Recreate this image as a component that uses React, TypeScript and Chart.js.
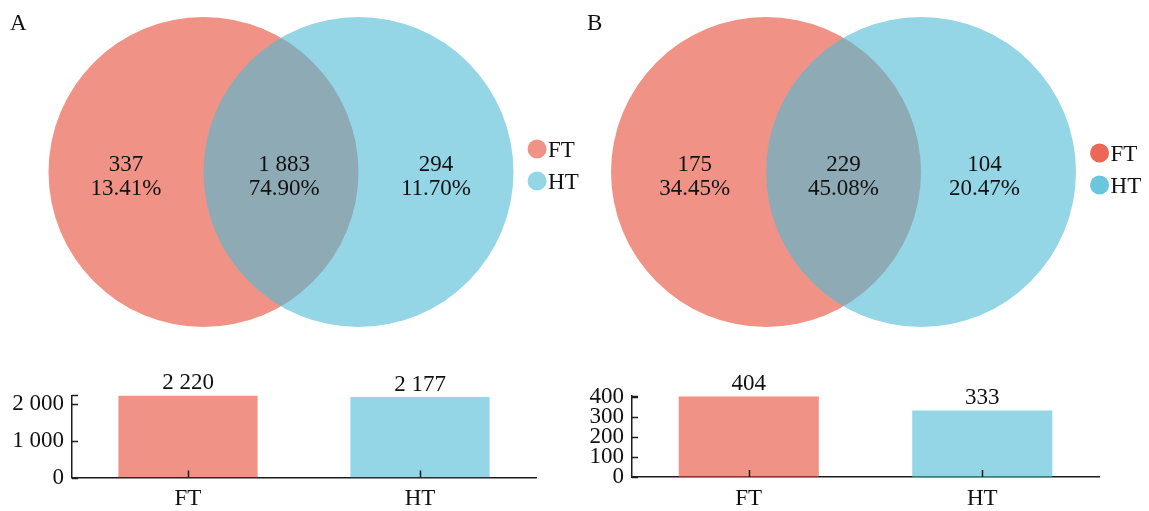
import React, { useEffect, useRef } from 'react';
import { Chart, registerables } from 'chart.js';

Chart.register(...registerables);

// ---------------- data ----------------
const SETS = ['FT', 'HT'];
const VENN_A_COUNTS = [337, 1883, 294];
const VENN_A_PCTS = ['13.41%', '74.90%', '11.70%'];
const VENN_B_COUNTS = [175, 229, 104];
const VENN_B_PCTS = ['34.45%', '45.08%', '20.47%'];
const BAR_A_VALUES = [2220, 2177];
const BAR_B_VALUES = [404, 333];
const BAR_A_TICKS = [0, 1000, 2000];
const BAR_B_TICKS = [0, 100, 200, 300, 400];

// ---------------- styles / layout ----------------
const FONT = "'Liberation Serif', 'Times New Roman', serif";
const FS = 23;
const TEXT = '#111';
const AXIS = '#1c1c1c';
const RED = 'rgba(230,75,53,0.6)';
const BLUE = 'rgba(77,187,213,0.6)';
const RED_STRONG = 'rgba(230,75,53,0.84)';
const BLUE_STRONG = 'rgba(77,187,213,0.84)';
const VENN_UNIT = 155; // px per unit
const VENN_R = 1;
const VENN_CX = [-0.5, 0.5];
const LEGEND_X = 1.652;

const fmt = (v: number) => String(v).replace(/\B(?=(\d{3})+(?!\d))/g, ' ');

type VennOpts = {
  letter: string;
  letterX: number;
  midX: number;
  midY: number;
  width: number;
  height: number;
  labelX: number[];
  legendDy: number[];
  legendColors: string[];
  counts: number[];
  pcts: string[];
};

function makeVenn(canvas: HTMLCanvasElement, o: VennOpts) {
  const radiusFn = (c: any) => {
    const s = c.chart.scales.x;
    if (!s) return 0;
    return Math.abs(s.getPixelForValue(VENN_R) - s.getPixelForValue(0));
  };
  const labels = {
    id: 'vennLabels',
    afterDatasetsDraw(chart: any) {
      const { ctx } = chart;
      const x = chart.scales.x;
      const y = chart.scales.y;
      const py = y.getPixelForValue(0);
      ctx.save();
      ctx.fillStyle = TEXT;
      ctx.font = `${FS}px ${FONT}`;
      ctx.textAlign = 'center';
      ctx.textBaseline = 'alphabetic';
      o.counts.forEach((c, i) => {
        const px = x.getPixelForValue(o.labelX[i]);
        ctx.fillText(fmt(c), px, py - 1.5);
        ctx.fillText(o.pcts[i], px, py + 22.5);
      });
      const lx = x.getPixelForValue(LEGEND_X);
      SETS.forEach((s, i) => {
        const ly = py + o.legendDy[i];
        ctx.beginPath();
        ctx.fillStyle = o.legendColors[i];
        ctx.arc(lx, ly, 9.5, 0, Math.PI * 2);
        ctx.fill();
        ctx.fillStyle = TEXT;
        ctx.textAlign = 'left';
        ctx.fillText(s, lx + 11, ly + 8);
      });
      ctx.textAlign = 'left';
      ctx.fillText(o.letter, o.letterX, 30);
      ctx.restore();
    },
  };
  return new Chart(canvas, {
    type: 'scatter',
    data: {
      datasets: SETS.map((s, i) => ({
        label: s,
        data: [{ x: VENN_CX[i], y: 0 }],
        backgroundColor: i === 0 ? RED : BLUE,
        borderWidth: 0,
        pointRadius: radiusFn,
        pointHoverRadius: radiusFn,
        clip: false,
        order: SETS.length - i, // HT drawn on top of FT
      })),
    },
    options: {
      animation: false,
      responsive: false,
      maintainAspectRatio: false,
      events: [],
      layout: { padding: 0 },
      plugins: { legend: { display: false }, tooltip: { enabled: false } },
      scales: {
        x: {
          type: 'linear',
          display: false,
          min: -o.midX / VENN_UNIT,
          max: (o.width - o.midX) / VENN_UNIT,
        },
        y: {
          type: 'linear',
          display: false,
          min: -(o.height - o.midY) / VENN_UNIT,
          max: o.midY / VENN_UNIT,
        },
      },
    } as any,
    plugins: [labels],
  });
}

type BarOpts = {
  values: number[];
  ticks: number[];
  max: number;
  yWidth: number;
  xHeight: number;
  padTop: number;
  padRight: number;
};

function makeBar(canvas: HTMLCanvasElement, o: BarOpts) {
  const deco = {
    id: 'barDeco',
    afterDatasetsDraw(chart: any) {
      const { ctx } = chart;
      const meta = chart.getDatasetMeta(0);
      ctx.save();
      ctx.fillStyle = TEXT;
      ctx.font = `${FS}px ${FONT}`;
      ctx.textAlign = 'center';
      ctx.textBaseline = 'alphabetic';
      meta.data.forEach((bar: any, i: number) => {
        ctx.fillText(fmt(o.values[i]), bar.x, bar.y - 6);
      });
      ctx.restore();
    },
    afterDraw(chart: any) {
      const { ctx, chartArea } = chart;
      const x = chart.scales.x;
      const y = chart.scales.y;
      ctx.save();
      ctx.strokeStyle = AXIS;
      ctx.lineWidth = 1.5;
      const vals = [...o.ticks, o.max];
      vals.forEach((v) => {
        const p = Math.round(y.getPixelForValue(v)) + 0.5;
        ctx.beginPath();
        ctx.moveTo(chartArea.left, p);
        ctx.lineTo(chartArea.left + 6, p);
        ctx.stroke();
      });
      x.ticks.forEach((_t: any, i: number) => {
        const p = Math.round(x.getPixelForTick(i)) + 0.5;
        ctx.beginPath();
        ctx.moveTo(p, chartArea.bottom);
        ctx.lineTo(p, chartArea.bottom - 7);
        ctx.stroke();
      });
      ctx.restore();
    },
  };
  return new Chart(canvas, {
    type: 'bar',
    data: {
      labels: SETS,
      datasets: [
        {
          data: o.values,
          backgroundColor: [RED, BLUE],
          borderWidth: 0,
          barPercentage: 0.6,
          categoryPercentage: 1,
        },
      ],
    },
    options: {
      animation: false,
      responsive: false,
      maintainAspectRatio: false,
      events: [],
      layout: { padding: { top: o.padTop, right: o.padRight, left: 0, bottom: 0 } },
      plugins: { legend: { display: false }, tooltip: { enabled: false } },
      scales: {
        x: {
          type: 'category',
          grid: { display: false, drawTicks: false },
          border: { display: true, color: AXIS, width: 1.5 },
          ticks: { color: TEXT, font: { family: FONT, size: FS }, padding: 8 },
          afterFit: (s: any) => {
            s.height = o.xHeight;
          },
        },
        y: {
          type: 'linear',
          min: 0,
          max: o.max,
          grid: { display: false, drawTicks: false },
          border: { display: true, color: AXIS, width: 1.5 },
          afterBuildTicks: (s: any) => {
            s.ticks = o.ticks.map((v) => ({ value: v }));
          },
          ticks: {
            color: TEXT,
            font: { family: FONT, size: FS },
            padding: 8,
            autoSkip: false,
            callback: (v: any) => fmt(Number(v)),
          },
          afterFit: (s: any) => {
            s.width = o.yWidth;
          },
        },
      },
    } as any,
    plugins: [deco],
  });
}

export default function App() {
  const vA = useRef<HTMLCanvasElement>(null);
  const vB = useRef<HTMLCanvasElement>(null);
  const bA = useRef<HTMLCanvasElement>(null);
  const bB = useRef<HTMLCanvasElement>(null);

  useEffect(() => {
    const charts: Chart[] = [];
    charts.push(
      makeVenn(vA.current!, {
        letter: 'A',
        letterX: 10,
        midX: 281,
        midY: 172,
        width: 590,
        height: 345,
        labelX: [-1.0, 0.02, 1.0],
        legendDy: [-23, 9],
        legendColors: [RED, BLUE],
        counts: VENN_A_COUNTS,
        pcts: VENN_A_PCTS,
      })
    );
    charts.push(
      makeVenn(vB.current!, {
        letter: 'B',
        letterX: 7,
        midX: 263.5,
        midY: 172,
        width: 569,
        height: 345,
        labelX: [-0.96, 0, 0.91],
        legendDy: [-19, 13],
        legendColors: [RED_STRONG, BLUE_STRONG],
        counts: VENN_B_COUNTS,
        pcts: VENN_B_PCTS,
      })
    );
    charts.push(
      makeBar(bA.current!, {
        values: BAR_A_VALUES,
        ticks: BAR_A_TICKS,
        max: 2220,
        yWidth: 72,
        xHeight: 33.5,
        padTop: 25.4,
        padRight: 39,
      })
    );
    charts.push(
      makeBar(bB.current!, {
        values: BAR_B_VALUES,
        ticks: BAR_B_TICKS,
        max: 404,
        yWidth: 57,
        xHeight: 34,
        padTop: 26.2,
        padRight: 50,
      })
    );
    return () => charts.forEach((c) => c.destroy());
  }, []);

  const pos = (left: number, top: number, w: number, h: number): React.CSSProperties => ({
    position: 'absolute',
    left,
    top,
    width: w,
    height: h,
  });

  return (
    <div style={{ position: 'absolute', left: 0, top: 0, width: 1149, height: 511, background: '#fff' }}>
      <canvas ref={vA} width={590} height={345} style={pos(0, 0, 590, 345)} />
      <canvas ref={vB} width={569} height={345} style={pos(580, 0, 569, 345)} />
      <canvas ref={bA} width={575} height={141} style={pos(0, 370, 575, 141)} />
      <canvas ref={bB} width={574} height={141} style={pos(575, 370, 574, 141)} />
    </div>
  );
}
